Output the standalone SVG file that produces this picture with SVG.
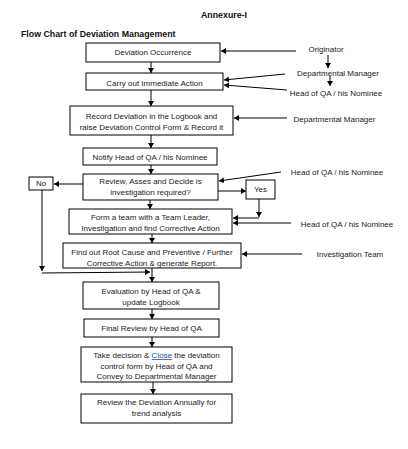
<svg xmlns="http://www.w3.org/2000/svg" width="408" height="449" viewBox="0 0 408 449">
<style>
text{font-family:"Liberation Sans",Arial,sans-serif;font-size:8px;fill:#222;}
.t{text-anchor:middle;}
.h{font-weight:bold;font-size:8.8px;fill:#111;}
rect{fill:#fff;stroke:#000;stroke-width:1;}
.c line,.c polyline{stroke:#000;stroke-width:1;fill:none;marker-end:url(#ah);}
.link{fill:#2a4f9a;text-decoration:underline;}
</style>
<defs>
<marker id="ah" markerUnits="userSpaceOnUse" markerWidth="6" markerHeight="6" refX="5" refY="3" orient="auto">
<path d="M0,0 L5,3 L0,6 z" fill="#000"/>
</marker>
</defs>
<rect x="0" y="0" width="408" height="449" style="stroke:none"/>
<text class="h t" x="224" y="18">Annexure-I</text>
<text class="h" x="21" y="37">Flow Chart of Deviation Management</text>

<g class="c">
<line x1="151" y1="62" x2="151" y2="73"/>
<line x1="151" y1="90" x2="151" y2="106"/>
<line x1="151" y1="135" x2="151" y2="148"/>
<line x1="151" y1="165" x2="151" y2="174"/>
<line x1="150" y1="200" x2="150" y2="209"/>
<line x1="152" y1="234" x2="152" y2="243"/>
<line x1="152" y1="268" x2="152" y2="282"/>
<line x1="152" y1="309" x2="152" y2="319"/>
<line x1="152" y1="337" x2="152" y2="347"/>
<line x1="153" y1="382" x2="153" y2="394"/>
<line x1="296" y1="51" x2="221" y2="51"/>
<line x1="328" y1="55" x2="328" y2="68"/>
<line x1="330" y1="76" x2="330" y2="86"/>
<line x1="285" y1="74" x2="224" y2="80"/>
<line x1="287" y1="90" x2="224" y2="85"/>
<line x1="287" y1="118" x2="234" y2="118"/>
<line x1="281" y1="172" x2="219" y2="181"/>
<line x1="83" y1="184" x2="54" y2="184"/>
<line x1="218" y1="191" x2="246" y2="191"/>
<line x1="42" y1="190" x2="42" y2="271"/>
<line x1="42" y1="273" x2="150" y2="272"/>
<line x1="259" y1="199" x2="259" y2="217"/>
<line x1="259" y1="218" x2="233" y2="218"/>
<line x1="291" y1="223" x2="233" y2="223"/>
<line x1="302" y1="254" x2="242" y2="254"/>
</g>

<g id="n1"><rect x="86" y="43" width="134" height="19"/><text class="t" x="153" y="55">Deviation Occurrence</text></g>
<g id="n2"><rect x="86" y="73" width="137" height="17"/><text class="t" x="154.5" y="86">Carry out Immediate Action</text></g>
<g id="n3"><rect x="70" y="106" width="163" height="29"/><text class="t" x="151.5" y="119">Record Deviation in the Logbook and</text><text class="t" x="151.5" y="130">raise Deviation Control Form &amp; Record it</text></g>
<g id="n4"><rect x="83" y="148" width="134" height="17"/><text class="t" x="150" y="160">Notify Head of QA / his Nominee</text></g>
<g id="n5"><rect x="83" y="174" width="135" height="26"/><text class="t" x="150.5" y="184">Review, Asses and Decide is</text><text class="t" x="150.5" y="195">investigation required?</text></g>
<g id="no"><rect x="29" y="177" width="24" height="13"/><text class="t" x="41" y="186">No</text></g>
<g id="yes"><rect x="246" y="180" width="29" height="19"/><text class="t" x="260.5" y="192">Yes</text></g>
<g id="n6"><rect x="69" y="209" width="163" height="25"/><text class="t" x="150.5" y="220">Form a team with a Team Leader,</text><text class="t" x="150.5" y="231">Investigation and find Corrective Action</text></g>
<g id="n7"><rect x="63" y="243" width="178" height="25"/><text class="t" x="152" y="255">Find out Root Cause and Preventive / Further</text><text class="t" x="152" y="266">Corrective Action &amp; generate Report.</text></g>
<g id="n8"><rect x="83" y="282" width="136" height="27"/><text class="t" x="151" y="294">Evaluation by Head of QA &amp;</text><text class="t" x="151" y="305">update Logbook</text></g>
<g id="n9"><rect x="84" y="319" width="135" height="18"/><text class="t" x="151.5" y="331">Final Review by Head of QA</text></g>
<g id="n10"><rect x="81" y="347" width="151" height="35"/><text class="t" x="156.5" y="358">Take decision &amp; <tspan class="link">Close</tspan> the deviation</text><text class="t" x="156.5" y="369">control form by Head of QA and</text><text class="t" x="156.5" y="379">Convey to Departmental Manager</text></g>
<g id="n11"><rect x="81" y="394" width="151" height="29"/><text class="t" x="156.5" y="405">Review the Deviation Annually for</text><text class="t" x="156.5" y="416">trend analysis</text></g>

<g id="actors">
<text class="t" x="326" y="52">Originator</text>
<text class="t" x="338" y="76">Departmental Manager</text>
<text class="t" x="336" y="96">Head of QA / his Nominee</text>
<text class="t" x="334.5" y="122">Departmental Manager</text>
<text class="t" x="337" y="175">Head of QA / his Nominee</text>
<text class="t" x="347" y="227">Head of QA / his Nominee</text>
<text class="t" x="350" y="257">Investigation Team</text>
</g>
</svg>
